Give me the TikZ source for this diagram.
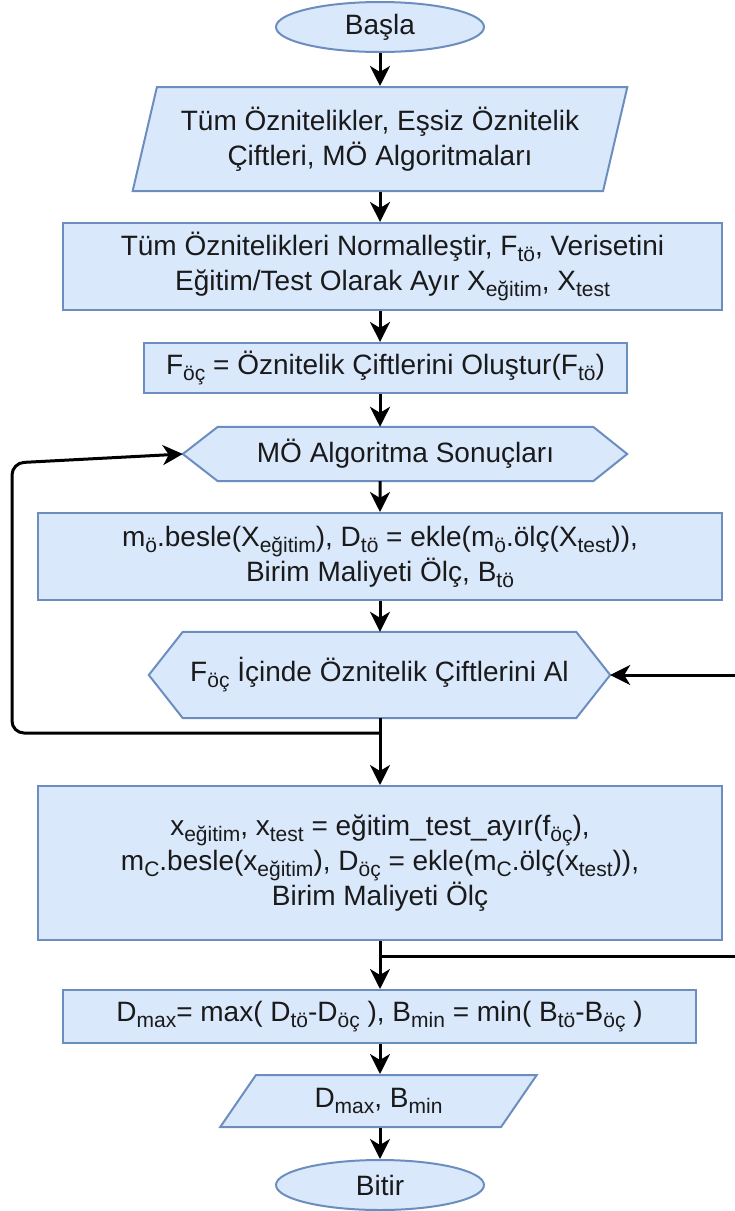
\documentclass[tikz,border=0pt]{standalone}
\usepackage{fontspec}
\setmainfont{Liberation Sans}
\usetikzlibrary{shapes.geometric,arrows.meta,backgrounds}

\definecolor{boxfill}{HTML}{DAE8FC}
\definecolor{boxline}{HTML}{6C8EBF}
\definecolor{ink}{HTML}{1A1A1A}

% lowered index in text
\newcommand{\lo}[1]{\raisebox{-6pt}{\fontsize{21}{21}\selectfont #1}}

\begin{document}
\begin{tikzpicture}[x=1pt,y=-1pt,
		font=\fontsize{28}{35}\selectfont,
		blk/.style={draw=boxline,fill=boxfill,line width=2pt,align=center,inner sep=0pt,text=ink},
		term/.style={blk,ellipse,minimum width=208pt,minimum height=50pt},
		proc/.style={blk,rectangle},
		io/.style={blk,trapezium,trapezium stretches=true},
		hexa/.style={rectangle,align=center,inner sep=0pt,text=ink},
		flow/.style={line width=3pt,-{Stealth[length=20pt,width=20pt,inset=6pt]}}]
	\useasboundingbox (0,0) rectangle (735,1211);

	\node[term] (start) at (380,27) {Başla};
	\node[io,trapezium left angle=71.4,trapezium right angle=108.6,
		minimum width=496pt,minimum height=104pt] (in) at (380,139)
		{Tüm Öznitelikler, Eşsiz Öznitelik\\Çiftleri, MÖ Algoritmaları};
	\node[proc,minimum width=659pt,minimum height=87pt] (prep) at (392.5,266.5)
		{Tüm Öznitelikleri Normalleştir, F\lo{tö}, Verisetini\\
		Eğitim/Test Olarak Ayır X\lo{eğitim}, X\lo{test}};
	\node[proc,minimum width=483pt,minimum height=50pt] (pairs) at (385.5,368)
		{F\lo{öç} = Öznitelik Çiftlerini Oluştur(F\lo{tö})};
	\node[hexa,minimum width=375pt,minimum height=54pt] (algo) at (405.5,454)
		{MÖ Algoritma Sonuçları};
	\node[proc,minimum width=684pt,minimum height=87pt] (single) at (380,556.5)
		{m\lo{ö}.besle(X\lo{eğitim}), D\lo{tö} = ekle(m\lo{ö}.ölç(X\lo{test})),\\
		Birim Maliyeti Ölç, B\lo{tö}};
	\node[hexa,minimum width=393pt,minimum height=86pt] (pick) at (379.5,675)
		{F\lo{öç} İçinde Öznitelik Çiftlerini Al};
	\node[proc,minimum width=684pt,minimum height=154pt] (pair) at (380,863)
		{x\lo{eğitim}, x\lo{test} = eğitim\_test\_ayır(f\lo{öç}),\\
		m\lo{C}.besle(x\lo{eğitim}), D\lo{öç} = ekle(m\lo{C}.ölç(x\lo{test})),\\
		Birim Maliyeti Ölç};
	\node[proc,minimum width=633pt,minimum height=53pt] (res) at (379.5,1016.5)
		{D\lo{max}= max( D\lo{tö}-D\lo{öç} ), B\lo{min} = min( B\lo{tö}-B\lo{öç} )};
	\node[io,trapezium left angle=53.8,trapezium right angle=126.2,
		minimum width=317pt,minimum height=52pt] (out) at (378.5,1101)
		{D\lo{max}, B\lo{min}};
	\node[term] (stop) at (380,1185) {Bitir};

	% hexagon outlines behind the two loop nodes
	\coordinate (algoW) at ([xshift=-35pt]algo.west);
	\coordinate (algoE) at ([xshift=34pt]algo.east);
	\coordinate (pickW) at ([xshift=-34pt]pick.west);
	\coordinate (pickE) at ([xshift=34pt]pick.east);
	\begin{scope}[on background layer]
		\draw[blk] (algoW) -- (algo.north west) -- (algo.north east) -- (algoE)
			-- (algo.south east) -- (algo.south west) -- cycle;
		\draw[blk] (pickW) -- (pick.north west) -- (pick.north east) -- (pickE)
			-- (pick.south east) -- (pick.south west) -- cycle;
	\end{scope}

	% main line
	\draw[flow] (start) -- (in);
	\draw[flow] (in.south) -- (in.south |- prep.north);
	\draw[flow] (in.south |- prep.south) -- (in.south |- pairs.north);
	\draw[flow] (in.south |- pairs.south) -- (in.south |- algo.north);
	\draw[flow] (in.south |- algo.south) -- (single.north);
	\draw[flow] (single.south) -- (single.south |- pick.north);
	\draw[flow] (single.south |- pick.south) -- (pair.north);
	\draw[flow] (pair.south) -- (res.north -| pair.south);
	\draw[flow] (res.south -| pair.south) -- (out.north -| pair.south);
	\draw[flow] (out.south -| pair.south) -- (stop);

	% loops
	\coordinate (jl) at (380,733);
	\coordinate (jr) at (380,956);
	\draw[flow,rounded corners=12pt] (jl) -- (12,733) -- (12,463) -- (algoW);
	\draw[flow] (jr) -- (750,956) -- (750,675) -- (pickE);
\end{tikzpicture}
\end{document}
